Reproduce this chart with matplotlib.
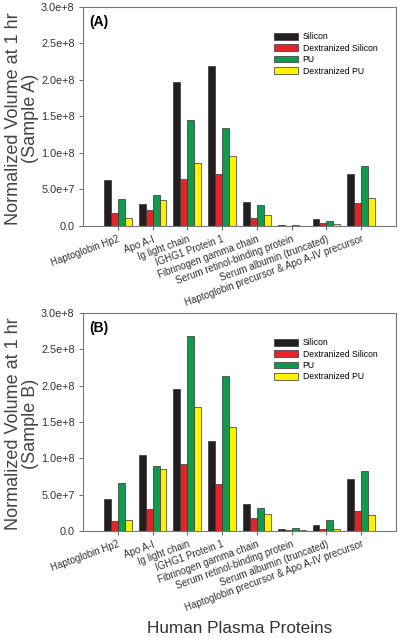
import matplotlib
matplotlib.use("Agg")
import matplotlib.pyplot as plt
import numpy as np

plt.rcParams['font.family'] = ['Liberation Sans', 'DejaVu Sans']

proteinas = ["Haptoglobin Hp2", "Apo A-I", "Ig light chain", "IGHG1 Protein 1",
             "Fibrinogen gamma chain", "Serum retinol-binding protein",
             "Serum albumin (truncated)", "Haptoglobin precursor & Apo A-IV precursor"]
series = ["Silicon", "Dextranized Silicon", "PU", "Dextranized PU"]
colores = ["#231f20", "#e3242b", "#0f9a4c", "#fff200"]

# valores en unidades de 1e6
muestra_a = [
    [63.5, 29.7, 197, 219.5, 32.4, 1.8, 10.0, 70.7],   # Silicon
    [18.0, 22.0, 65.0, 70.7, 10.8, 0.5, 3.6, 31.5],    # Dextranized Silicon
    [36.5, 42.0, 145, 134, 29.3, 1.8, 6.8, 82.0],      # PU
    [11.3, 36.0, 86.0, 95.5, 15.3, 0.5, 3.2, 38.3],    # Dextranized PU
]
muestra_b = [
    [44.0, 105, 196, 124, 36.5, 2.7, 8.7, 71.7],
    [13.7, 30.0, 92.5, 65.0, 18.0, 1.4, 3.2, 27.0],
    [66.0, 89.0, 268, 213.5, 32.0, 3.6, 15.5, 83.0],
    [14.6, 85.0, 170, 143, 23.0, 1.4, 2.3, 21.5],
]
ticks_y = [0, 5e7, 1e8, 1.5e8, 2e8, 2.5e8, 3e8]
etiquetas_y = ["0.0", "5.0e+7", "1.0e+8", "1.5e+8", "2.0e+8", "2.5e+8", "3.0e+8"]


def dibujar_panel(ax, datos, letra, muestra):
    x = np.arange(len(proteinas))
    ancho = 0.2
    for i, (nombre, vals) in enumerate(zip(series, datos)):
        ax.bar(x + (i - 1.5) * ancho, np.array(vals) * 1e6, ancho,
               color=colores[i], edgecolor="#333333", linewidth=0.5, label=nombre)
    ax.set_xlim(-1, 8)
    ax.set_ylim(0, 3e8)
    ax.set_yticks(ticks_y)
    ax.set_yticklabels(etiquetas_y, fontsize=7.8)
    ax.set_xticks(x)
    ax.set_xticklabels(proteinas, fontsize=7, rotation=20, ha="right",
                       rotation_mode="anchor")
    ax.tick_params(direction="out", length=3, width=0.6, colors="#555555",
                   labelcolor="#333333", pad=3)
    for s in ax.spines.values():
        s.set_color("#777777")
        s.set_linewidth(0.8)
    ax.text(0.02, 0.93, letra, transform=ax.transAxes, fontsize=10,
            fontweight="bold", va="center")
    ax.set_ylabel(f"Normalized Volume at 1 hr\n({muestra})", fontsize=13,
                  color="#444444", linespacing=1.0)
    ax.yaxis.set_label_coords(-0.142, 0.49)
    ax.legend(loc="upper left", bbox_to_anchor=(0.6, 0.90), frameon=False,
              fontsize=6.2, handlelength=2.8, handleheight=0.8,
              labelspacing=0.28, handletextpad=0.5, borderaxespad=0)


fig = plt.figure(figsize=(4, 6.38), dpi=100)
ax_a = fig.add_axes([0.2075, 0.6458, 0.7825, 0.3433])
ax_b = fig.add_axes([0.2075, 0.1677, 0.7825, 0.3417])

dibujar_panel(ax_a, muestra_a, "(A)", "Sample A")
dibujar_panel(ax_b, muestra_b, "(B)", "Sample B")

fig.text(0.6, 0.015, "Human Plasma Proteins", ha="center", va="center",
         fontsize=12.3, color="#333333")

fig.savefig("out.png", dpi=100)
